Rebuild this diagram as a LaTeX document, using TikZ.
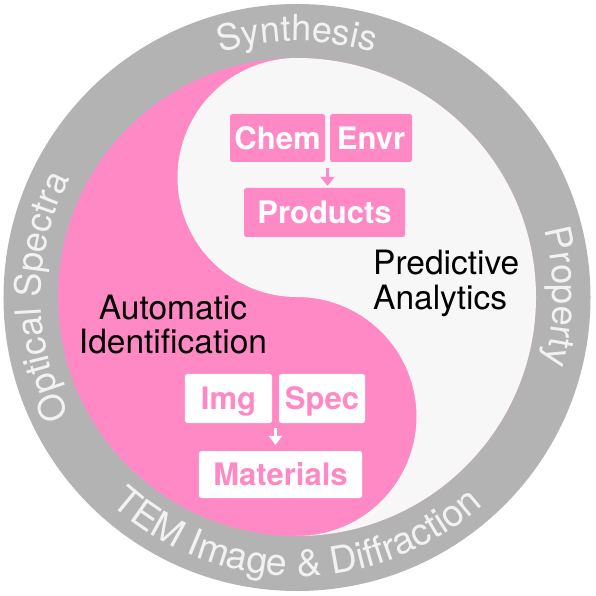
\documentclass[tikz,border=0pt]{standalone}
\usepackage{fontspec}
\setmainfont{TeX Gyre Heros}
\usetikzlibrary{decorations.text,arrows.meta,calc}
\definecolor{pinkc}{RGB}{255,137,196}
\definecolor{ringgray}{RGB}{179,179,179}
\definecolor{offwhite}{RGB}{246,247,246}
\definecolor{ringtext}{RGB}{242,242,242}
\newcommand\myringfont{\fontsize{36}{36}\selectfont}
\newcommand\mybotfont{\fontsize{37.5}{37.5}\selectfont}
\newcommand\myboxfont{\fontsize{31}{31}\selectfont\bfseries}
\newcommand\mylabfont{\fontsize{33.5}{33.5}\selectfont}
\begin{document}
\begin{tikzpicture}[x=1pt,y=1pt,
  pbox/.style={fill=pinkc, text=white, rounded corners=2.5pt, font=\myboxfont, inner sep=0pt, minimum height=48pt, text height=22.3pt, text depth=0pt},
  wbox/.style={fill=white, text=pinkc, rounded corners=2.5pt, font=\myboxfont, inner sep=0pt, minimum height=48pt, text height=22.3pt, text depth=0pt},
  lab/.style={font=\mylabfont, text=black, inner sep=0pt},
  ringlabel/.style={decorate, decoration={text along path, text align=center, text color=ringtext}},
  parrow/.style={draw=pinkc, line width=3pt, -{Triangle[width=14pt,length=9pt]}},
  warrow/.style={draw=white, line width=3pt, -{Triangle[width=13pt,length=9pt]}},
]
\useasboundingbox (-297,-299) rectangle (299,297);
\fill[white] (-297,-299) rectangle (299,297);
\fill[ringgray] (0,-0.5) circle[radius=293.5];
\fill[pinkc] (0,0) circle[radius=239];
\fill[offwhite] (0,239) arc[start angle=90,end angle=-90,radius=239]
  arc[start angle=-90,end angle=90,radius=119.5]
  arc[start angle=270,end angle=90,radius=119.5] -- cycle;
% ring labels
\path[ringlabel, decoration={text={|\myringfont|Synthesis}}]
  (150:256) arc[start angle=150,end angle=30,radius=256];
\path[ringlabel, decoration={text={|\myringfont|Property}}]
  (60:256) arc[start angle=60,end angle=-60,radius=256];
\path[ringlabel, decoration={text={|\myringfont|Optical Spectra}}]
  (240:256) arc[start angle=240,end angle=120,radius=256];
\path[ringlabel, decoration={text={|\mybotfont|TEM Image {\&} Diffraction}}]
  (185:279) arc[start angle=185,end angle=355,radius=279];
% upper boxes
\node[pbox, minimum width=95pt] (chem) at (-19.5,159) {Chem};
\node[pbox, minimum width=82pt] (envr) at (74,159) {Envr};
\node[pbox, minimum width=161pt, minimum height=49pt] (prod) at (27.5,84.5) {Products};
\coordinate (g1) at ($(chem.south east)!0.5!(envr.south west)$);
\draw[parrow] ([yshift=-6pt]g1) -- ([yshift=2pt]g1 |- prod.north);
% lower boxes
\node[wbox, minimum width=87pt, minimum height=49pt] (img) at (-68.5,-101.5) {Img};
\node[wbox, minimum width=86pt, minimum height=49pt] (spec) at (25,-101.5) {Spec};
\node[wbox, minimum width=163pt, minimum height=47pt] (mat) at (-16.5,-177.5) {Materials};
\coordinate (g2) at ($(img.south east)!0.5!(spec.south west)$);
\draw[warrow] ([yshift=-5pt]g2) -- ([yshift=6pt]g2 |- mat.north);
% labels
\node[lab, anchor=base west] (pred) at (76,22) {Predictive};
\node[lab, anchor=base west] (anal) at (76,-13) {Analytics};
\node[lab, anchor=base] (auto) at (-124,-23) {Automatic};
\node[lab, anchor=base] (ident) at (-124,-57) {Identification};
\end{tikzpicture}
\end{document}
